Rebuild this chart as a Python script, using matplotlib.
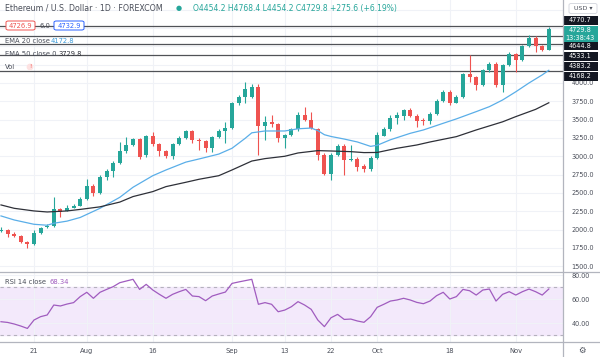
import matplotlib
matplotlib.use("Agg")
import matplotlib.pyplot as plt
from matplotlib.lines import Line2D
from matplotlib.patches import Rectangle, FancyBboxPatch
import numpy as np
import pandas as pd

# daily candles (weekdays only, FOREXCOM feed)
dates = pd.bdate_range("2021-07-14", "2021-11-08")
opens = [1975, 1995, 1945, 1918, 1830, 1805, 1950, 2030, 2050, 2277,
         2255, 2300, 2322, 2418, 2600, 2495, 2713, 2800, 2913, 3072,
         3154, 3232, 3020, 3282, 3163, 3072, 3009, 3163, 3254, 3345,
         3222, 3209, 3118, 3268, 3345, 3382, 3723, 3805, 3805, 3950,
         3414, 3473, 3436, 3245, 3290, 3368, 3563, 3495, 3368, 3018,
         2759, 3018, 3141, 2950, 2960, 2868, 2822, 2972, 3281, 3372,
         3527, 3554, 3632, 3554, 3495, 3481, 3572, 3759, 3882, 3732,
         3804, 4118, 4086, 3973, 4178, 4255, 3973, 4246, 4391, 4314,
         4505, 4610, 4505, 4454.2]
highs = [2030, 2010, 1960, 1930, 1850, 1990, 2035, 2070, 2450, 2290,
         2330, 2345, 2440, 2690, 2620, 2740, 2830, 2940, 3190, 3260,
         3250, 3250, 3290, 3335, 3180, 3090, 3175, 3270, 3360, 3360,
         3245, 3225, 3280, 3370, 3470, 3740, 3830, 4018, 3980, 3980,
         3550, 3565, 3450, 3310, 3390, 3600, 3677, 3600, 3380, 3050,
         3050, 3170, 3170, 3160, 2990, 2900, 3000, 3330, 3400, 3560,
         3610, 3640, 3665, 3580, 3520, 3600, 3780, 3900, 3910, 3830,
         4140, 4382, 4100, 4190, 4280, 4290, 4260, 4420, 4410, 4520,
         4655, 4640, 4520, 4768.4]
lows = [1960, 1905, 1900, 1810, 1745, 1790, 1945, 2020, 2040, 2175,
        2250, 2295, 2315, 2410, 2460, 2480, 2680, 2720, 2900, 3050,
        3140, 2960, 2985, 3140, 3010, 2970, 2960, 3150, 3240, 3180,
        3086, 3065, 3060, 3250, 3180, 3370, 3700, 3730, 3790, 3018,
        3222, 3400, 3200, 3110, 3270, 3350, 3480, 3370, 2950, 2740,
        2680, 3000, 2750, 2940, 2800, 2790, 2800, 2960, 3270, 3350,
        3440, 3500, 3540, 3400, 3420, 3440, 3560, 3740, 3700, 3720,
        3790, 4018, 3905, 3960, 4150, 3950, 3882, 4230, 4155, 4300,
        4490, 4428, 4440, 4454.2]
closes = [2000, 1935, 1918, 1826, 1805, 1950, 2018, 2055, 2277, 2240,
          2300, 2322, 2418, 2600, 2495, 2713, 2800, 2913, 3072, 3154,
          3232, 2986, 3282, 3168, 3072, 3009, 3163, 3254, 3345, 3222,
          3209, 3118, 3268, 3345, 3382, 3723, 3805, 3914, 3950, 3414,
          3473, 3436, 3245, 3290, 3368, 3563, 3495, 3391, 3018, 2759,
          3018, 3141, 2950, 2963, 2859, 2822, 2972, 3291, 3372, 3518,
          3563, 3632, 3554, 3481, 3481, 3572, 3759, 3882, 3732, 3804,
          4118, 4086, 3973, 4178, 4255, 3973, 4246, 4391, 4314, 4505,
          4610, 4505, 4454.2, 4729.8]

ema20_dates = ["2021-07-14", "2021-07-16", "2021-07-21", "2021-07-23", "2021-07-26",
               "2021-07-28", "2021-07-30", "2021-08-04", "2021-08-09", "2021-08-11",
               "2021-08-16", "2021-08-18", "2021-08-23", "2021-08-25", "2021-08-30",
               "2021-09-01", "2021-09-03", "2021-09-06", "2021-09-08", "2021-09-13",
               "2021-09-15", "2021-09-17", "2021-09-20", "2021-09-21", "2021-09-22",
               "2021-09-24", "2021-09-28", "2021-09-30", "2021-10-01", "2021-10-05",
               "2021-10-08", "2021-10-12", "2021-10-15", "2021-10-19", "2021-10-22",
               "2021-10-26", "2021-10-28", "2021-11-01", "2021-11-03", "2021-11-05",
               "2021-11-08"]
ema20 = [2186, 2131, 2072, 2059, 2086, 2115, 2165, 2290, 2440, 2577,
         2735, 2813, 2920, 2963, 3030, 3109, 3245, 3320, 3345, 3345,
         3375, 3385, 3350, 3294, 3270, 3235, 3195, 3135, 3150, 3225,
         3313, 3359, 3450, 3510, 3609, 3677, 3768, 3880, 4000, 4110,
         4172.8]

ema50_dates = ["2021-07-14", "2021-07-16", "2021-07-21", "2021-07-23", "2021-07-28",
               "2021-07-30", "2021-08-04", "2021-08-09", "2021-08-11", "2021-08-16",
               "2021-08-18", "2021-08-23", "2021-08-25", "2021-08-30", "2021-09-01",
               "2021-09-06", "2021-09-08", "2021-09-13", "2021-09-15", "2021-09-20",
               "2021-09-22", "2021-09-27", "2021-09-29", "2021-10-01", "2021-10-06",
               "2021-10-11", "2021-10-13", "2021-10-19", "2021-10-22", "2021-10-28",
               "2021-11-01", "2021-11-04", "2021-11-08"]
ema50 = [2336, 2290, 2254, 2240, 2254, 2275, 2310, 2375, 2450, 2518,
         2586, 2645, 2686, 2735, 2813, 2935, 2968, 3000, 3045, 3077,
         3072, 3063, 3050, 3052, 3109, 3154, 3195, 3268, 3359, 3470,
         3541, 3640, 3729.8]

rsi = [41.1, 40.5, 39.2, 37.5, 35.5, 42.5, 45.3, 46.7, 55.0, 54.2,
       55.8, 57.0, 62.0, 65.6, 60.6, 65.6, 68.0, 70.3, 73.6, 75.0,
       76.4, 68.0, 72.2, 67.5, 63.9, 60.6, 63.9, 66.1, 68.0, 62.5,
       62.0, 58.6, 62.5, 64.2, 65.8, 73.0, 74.2, 75.3, 76.4, 55.6,
       57.0, 55.6, 49.4, 50.8, 53.6, 57.8, 55.0, 51.4, 42.5, 37.0,
       44.4, 47.2, 43.0, 43.3, 41.7, 40.6, 45.3, 53.1, 55.6, 58.3,
       59.2, 60.6, 59.2, 57.2, 56.1, 58.3, 62.8, 65.6, 60.0, 62.0,
       68.0, 66.9, 63.3, 67.5, 68.3, 58.3, 63.9, 66.1, 63.3, 66.1,
       68.3, 66.1, 63.3, 68.34]

levels = [4770.7, 4644.8, 4533.1, 4383.2, 4168.2]
level_labels = ["4770.7", "4644.8", "4533.1", "4383.2", "4168.2"]
price_ticks = [1500, 1750, 2000, 2250, 2500, 2750, 3000, 3250, 3500, 3750, 4000]
grid_prices = [4250, 4500, 4750, 5000]
rsi_ticks = [40, 60, 80]
tick_dates = ["2021-07-21", "2021-08-02", "2021-08-16", "2021-09-01", "2021-09-13",
              "2021-09-22", "2021-10-01", "2021-10-18", "2021-11-01"]
tick_labels = ["21", "Aug", "16", "Sep", "13", "22", "Oct", "18", "Nov"]

UP = "#26a69a"
DOWN = "#ef5350"
TXT = "#4a4e59"
GRID = "#f0f2f7"
RSI_C = "#a05cbf"

plt.rcParams["font.family"] = ["DejaVu Sans"]
fs = 4.7      # scale labels
lfs = 4.9     # legend texts

W, H = 600, 357
fig = plt.figure(figsize=(6, 3.57), dpi=100)
fig.patch.set_facecolor("white")

def fx(x):
    return x / W

def fy(y):
    return 1 - y / H

pos = {d: i for i, d in enumerate(dates)}
x = np.arange(len(dates))
e20x = [pos[pd.Timestamp(d)] for d in ema20_dates]
e50x = [pos[pd.Timestamp(d)] for d in ema50_dates]
tickx = [pos[pd.Timestamp(d)] for d in tick_dates]

xlim = (-0.15, 85.15)

# ---- main price pane
ax = fig.add_axes([0, fy(272), fx(563), 272 / H])
ax.set_xlim(*xlim)
ax.set_ylim(1421, 5132)
for s in ax.spines.values():
    s.set_visible(False)
ax.yaxis.tick_right()
ax.set_yticks(price_ticks + grid_prices)
ax.set_yticklabels(["%.1f" % p for p in price_ticks] + [""] * len(grid_prices))
ax.tick_params(axis="y", length=0, pad=6, labelsize=fs, labelcolor=TXT)
ax.set_xticks(tickx)
ax.tick_params(axis="x", length=0, labelbottom=False)
ax.grid(True, color=GRID, lw=0.8)
ax.set_axisbelow(True)

o = np.array(opens); c = np.array(closes)
hi = np.array(highs); lo = np.array(lows)
cols = np.where(c >= o, UP, DOWN)
ax.vlines(x, lo, hi, colors=cols, lw=0.8, zorder=2)
body = np.maximum(np.abs(c - o), 8)
ax.bar(x, body, bottom=np.minimum(o, c), width=0.62, color=cols, zorder=3)

ax.plot(e20x, ema20, color="#5aaee8", lw=0.9, zorder=4)
ax.plot(e50x, ema50, color="#2e3038", lw=0.9, zorder=4)

for lv in levels:
    ax.axhline(lv, color="#505257", lw=0.9, zorder=1)

# ---- RSI pane
ra = fig.add_axes([0, fy(342), fx(563), 70 / H])
ra.set_xlim(*xlim)
ra.set_ylim(24.2, 82.5)
for s in ra.spines.values():
    s.set_visible(False)
ra.axhspan(30, 70, color="#f3e9fb", zorder=0)
ra.axhline(70, color="#b4b1bd", lw=0.8, ls=(0, (3, 3)), zorder=1)
ra.axhline(30, color="#b4b1bd", lw=0.8, ls=(0, (3, 3)), zorder=1)
ra.plot(x, rsi, color=RSI_C, lw=0.9, zorder=3)
ra.yaxis.tick_right()
ra.set_yticks(rsi_ticks)
ra.set_yticklabels(["%.2f" % v for v in rsi_ticks])
ra.tick_params(axis="y", length=0, pad=6, labelsize=fs, labelcolor=TXT)
ra.set_xticks(tickx)
ra.set_xticklabels(tick_labels)
ra.tick_params(axis="x", length=0, pad=4, labelsize=fs + 0.2, labelcolor=TXT)
ra.grid(True, color=GRID, lw=0.8)
ra.set_axisbelow(True)

# separators
for yy in (272, 342):
    fig.add_artist(Line2D([0, 1], [fy(yy), fy(yy)], color="#b2b5be", lw=0.9))
fig.add_artist(Line2D([fx(563), fx(563)], [0, 1], color="#b2b5be", lw=0.9))

# ---- header / legend texts
fig.text(fx(5), fy(8), "Ethereum / U.S. Dollar · 1D · FOREXCOM", fontsize=5.7,
         color=TXT, va="center")
fig.text(fx(179), fy(8), "●", fontsize=5, color=UP, va="center", ha="center")
fig.text(fx(193), fy(8), "O4454.2 H4768.4 L4454.2 C4729.8 +275.6 (+6.19%)",
         fontsize=5.5, color=UP, va="center")

def tag(x0, x1, yc, text, color):
    fig.add_artist(FancyBboxPatch((fx(x0), fy(yc + 4.5)), fx(x1 - x0), 9 / H,
                                  boxstyle="round,pad=0,rounding_size=0.004",
                                  transform=fig.transFigure, fc="white", ec=color, lw=0.7))
    fig.text(fx((x0 + x1) / 2), fy(yc), text, fontsize=lfs, color=color,
             va="center", ha="center")

tag(6, 35, 25.5, "4726.9", DOWN)
fig.text(fx(45), fy(25.5), "6.0", fontsize=lfs, color=TXT, va="center", ha="center")
tag(54, 84, 25.5, "4732.9", "#2962ff")

fig.text(fx(5), fy(41), "EMA 20 close", fontsize=lfs, color=TXT, va="center")
fig.text(fx(51), fy(41), "4172.8", fontsize=lfs, color="#3a9ad9", va="center")
fig.text(fx(5), fy(54), "EMA 50 close 0", fontsize=lfs, color=TXT, va="center")
fig.text(fx(58), fy(54), "3729.8", fontsize=lfs, color="#2e3038", va="center")
fig.text(fx(5), fy(67), "Vol", fontsize=lfs, color=TXT, va="center")
fig.text(fx(30), fy(67), "!", fontsize=4.2, color=DOWN, va="center", ha="center",
         bbox=dict(boxstyle="circle,pad=0.15", fc="#fde2e2", ec="none"))
fig.text(fx(5), fy(282), "RSI 14 close", fontsize=lfs, color=TXT, va="center")
fig.text(fx(49), fy(282), "68.34", fontsize=lfs, color=RSI_C, va="center")

# ---- right scale labels
fig.add_artist(FancyBboxPatch((fx(569), fy(13.5)), fx(28), 10 / H,
                              boxstyle="round,pad=0,rounding_size=0.004",
                              transform=fig.transFigure, fc="white", ec="#d1d4dc", lw=0.6))
fig.text(fx(583), fy(8.5), "USD ▾", fontsize=4.6, color=TXT, va="center", ha="center")

label_y = [20.3, 46, 56.5, 66.5, 76.5]
for lab, yy in zip(level_labels, label_y):
    fig.add_artist(Rectangle((fx(563.5), fy(yy + 4.3)), fx(34), 8.6 / H,
                             transform=fig.transFigure, fc="#131722", ec="none"))
    fig.text(fx(580), fy(yy), lab, fontsize=fs, color="white", va="center", ha="center")
fig.add_artist(Rectangle((fx(563.5), fy(42)), fx(34), 16 / H,
                         transform=fig.transFigure, fc=UP, ec="none"))
fig.text(fx(580), fy(30), "4729.8", fontsize=fs, color="white", va="center", ha="center")
fig.text(fx(580), fy(38), "13:38:43", fontsize=fs, color="white", va="center", ha="center")
fig.text(fx(582), fy(350), "⚙", fontsize=6, color=TXT, va="center", ha="center")

fig.savefig("out.png", dpi=100)
